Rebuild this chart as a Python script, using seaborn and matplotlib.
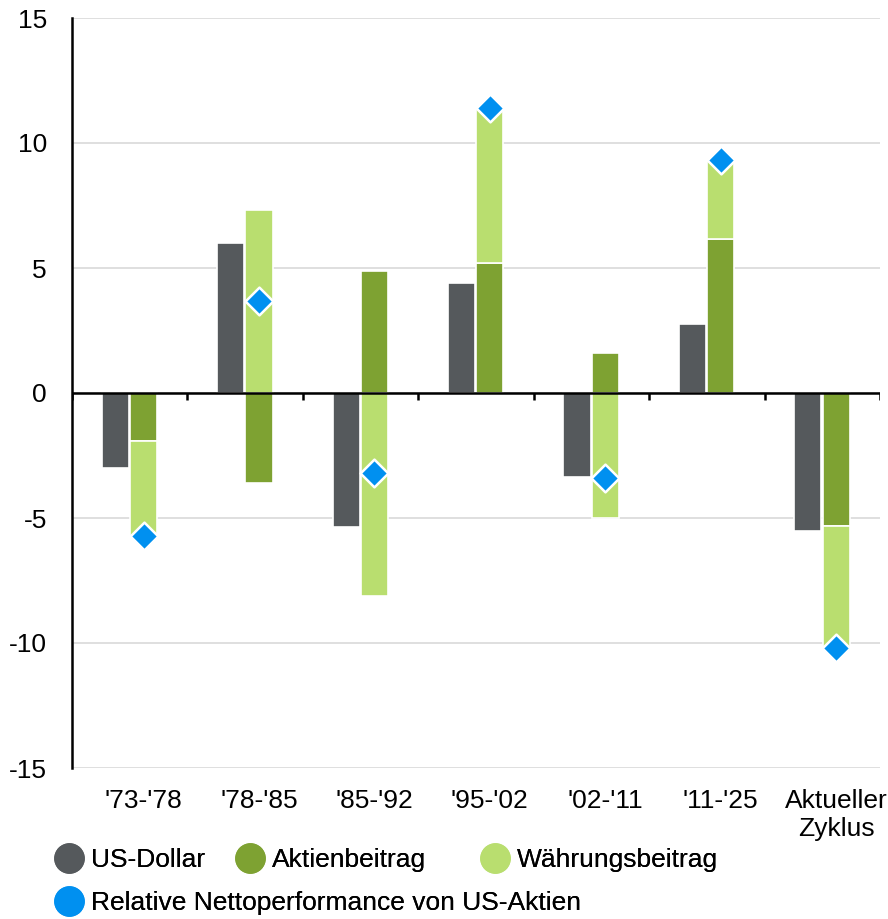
import numpy as np
import pandas as pd
import matplotlib
matplotlib.use("Agg")
import matplotlib.pyplot as plt
from matplotlib.lines import Line2D
import seaborn as sns

# data
perioden = ["'73-'78", "'78-'85", "'85-'92", "'95-'02", "'02-'11", "'11-'25", "Aktueller\nZyklus"]
us_dollar = [-3.0, 6.0, -5.35, 4.4, -3.35, 2.75, -5.5]
aktien = [-1.9, -3.6, 4.9, 5.2, 1.6, 6.15, -5.3]
waehrung = [-3.8, 7.3, -8.1, 6.2, -5.0, 3.15, -4.9]
netto = [-5.7, 3.7, -3.2, 11.4, -3.4, 9.3, -10.2]

c_dollar = "#55595c"
c_aktien = "#7ea232"
c_waehrung = "#b9de6f"
c_netto = "#0090f0"

sns.set_theme(style="white")
plt.rcParams["font.family"] = ["Liberation Sans", "DejaVu Sans"]
plt.rcParams["text.color"] = "black"
plt.rcParams["xtick.color"] = "black"
plt.rcParams["ytick.color"] = "black"

fig = plt.figure(figsize=(8.88, 9.19), dpi=100)
ax = fig.add_axes([72/888, 1-768/919, 808/888, 750/919])

x = np.arange(len(perioden))
w = 0.235
xd = x - 0.125
xs = x + 0.12

# stacking: Währung sits on Aktien if same sign, otherwise starts at 0
akt = np.array(aktien)
wae = np.array(waehrung)
bottom_w = np.where(np.sign(akt) == np.sign(wae), akt, 0)

ax.bar(xd, us_dollar, width=w, color=c_dollar, edgecolor="white", linewidth=1.2, zorder=3)
ax.bar(xs, aktien, width=w, color=c_aktien, edgecolor="white", linewidth=1.2, zorder=3)
ax.bar(xs, waehrung, bottom=bottom_w, width=w, color=c_waehrung, edgecolor="white", linewidth=1.2, zorder=3)

df = pd.DataFrame({"x": xs, "netto": netto})
sns.scatterplot(data=df, x="x", y="netto", marker="D", s=200, color=c_netto,
                edgecolor="white", linewidth=1.8, zorder=5, ax=ax, legend=False)

ax.set_xlim(-0.5, len(perioden) - 0.5)
ax.set_ylim(-15, 15)
ax.set_yticks([-15, -10, -5, 0, 5, 10, 15])
ax.set_yticklabels(["-15", "-10", "-5", "0", "5", "10", "15"])
ax.yaxis.grid(True, color="#d9d9d9", linewidth=1.2, zorder=0)
ax.set_axisbelow(True)

ax.axhline(0, color="black", linewidth=1.8, zorder=4)
ax.vlines(np.arange(len(perioden) + 1) - 0.5, -0.28, 0, color="black", linewidth=1.8, zorder=4)

for s in ["top", "right", "bottom"]:
    ax.spines[s].set_visible(False)
ax.spines["left"].set_color("black")
ax.spines["left"].set_linewidth(1.8)

# category labels sit under the stacked bar, as in the reference
ax.set_xticks(xs)
ax.set_xticklabels(perioden, linespacing=1.2)
ax.tick_params(axis="x", length=0, pad=15, labelsize=19)
ax.tick_params(axis="y", length=0, pad=18, labelsize=19)
ax.set_xlabel("")
ax.set_ylabel("")

def handle(c):
    return Line2D([], [], marker="o", linestyle="", markersize=21, markerfacecolor=c, markeredgecolor=c)

# legend items placed one by one, like the reference's uneven spacing
legend_items = [
    (c_dollar, "US-Dollar", 55, 860),
    (c_aktien, "Aktienbeitrag", 236, 860),
    (c_waehrung, "Währungsbeitrag", 481, 860),
    (c_netto, "Relative Nettoperformance von US-Aktien", 55, 903),
]
for c, lab, px, py in legend_items:
    leg = fig.legend([handle(c)], [lab], loc="center left",
                     bbox_to_anchor=(px/888, 1-py/919), frameon=False,
                     fontsize=19, handlelength=1.05, handletextpad=0.3,
                     borderaxespad=0, borderpad=0)
    fig.add_artist(leg)

fig.savefig("out.png", dpi=100)
